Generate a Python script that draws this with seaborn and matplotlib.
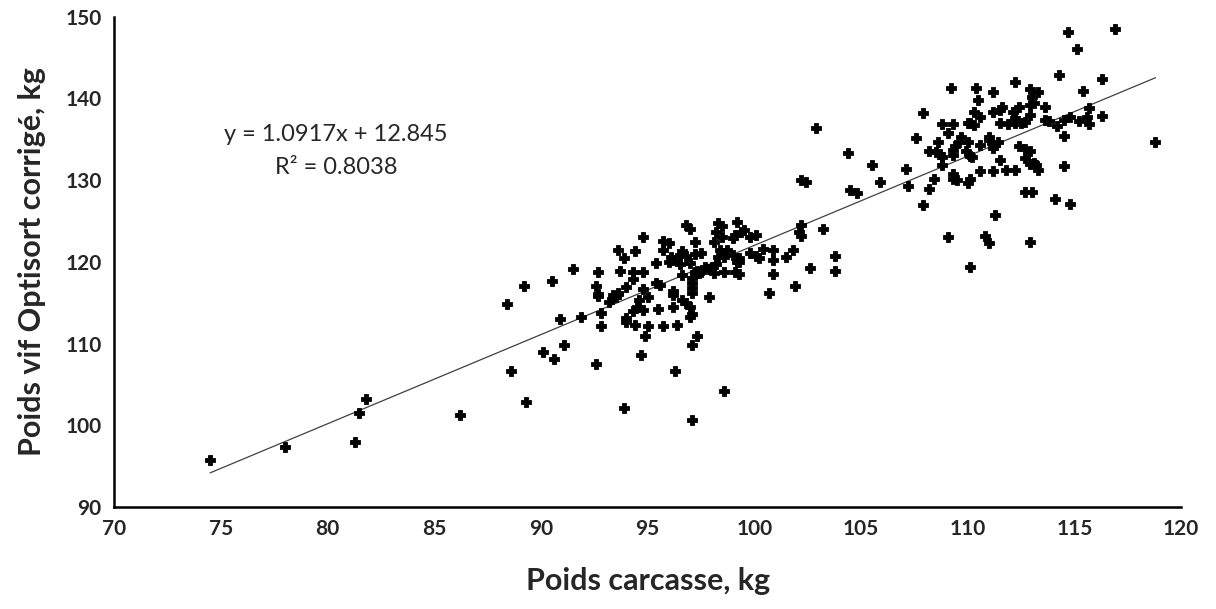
import matplotlib
matplotlib.use("Agg")
import matplotlib.pyplot as plt
import numpy as np
import pandas as pd
import seaborn as sns

# Carcass weight (kg) and corrected Optisort live weight (kg) per pig
poids_carcasse = [
    74.5, 78.0, 81.3, 81.5, 81.8, 86.2,
    91.1, 90.1, 90.6, 94.7, 92.6, 88.6, 89.3, 93.9,
    97.1, 96.3, 98.6, 97.1,
    94.8, 93.6, 94.4, 93.9, 91.5, 92.7, 93.7, 94.3, 94.8, 94.3,
    89.2, 90.5, 92.6, 94.0, 94.8, 92.7, 92.7, 93.4, 93.6, 93.6,
    93.5, 95.0, 94.6, 93.2, 88.4, 94.5, 94.3, 94.8, 92.8, 90.9,
    91.9, 94.0, 94.0, 94.4, 95.0, 92.8, 94.9,
    96.8, 97.0, 98.3, 98.5, 99.2, 95.7, 96.0, 95.7, 97.2, 98.2,
    98.1, 98.5, 99.0, 99.1, 99.4, 99.5, 99.8, 100.1, 102.2, 102.1,
    102.2, 96.6, 96.5, 96.8, 96.1, 96.2, 96.0, 97.2, 97.5, 98.4,
    98.5, 98.7, 98.3, 98.6, 99.0, 99.3, 99.2, 99.3, 99.8, 100.1,
    100.2, 100.4, 100.9, 100.9, 101.5, 101.8, 95.4, 96.5, 97.0, 98.2,
    97.7, 97.9, 98.0, 97.3, 97.5, 97.2, 97.4, 98.1, 98.6, 99.1,
    99.3, 100.9, 96.6, 97.1, 97.1, 97.1, 97.1, 95.4, 95.6, 100.7,
    101.9, 102.6, 96.2, 96.2, 97.9, 96.6, 96.8, 97.0, 96.2, 95.5,
    97.1, 97.0, 95.7, 96.4, 97.3,
    102.2, 102.4, 102.9, 104.4, 104.5, 104.8, 105.5, 105.9, 103.2,
    103.8, 103.8,
    112.2, 109.2, 110.4, 111.2, 112.9, 113.3, 110.5, 113.0, 113.1, 112.9,
    111.6, 112.4, 111.5, 111.2, 110.3, 112.1, 112.9, 107.9, 110.6, 112.2,
    112.3, 108.8, 109.3, 110.0, 110.1, 110.3, 111.5, 111.9, 112.2, 112.5,
    112.7, 109.1, 107.6, 109.7, 109.6, 110.0, 108.6, 111.0, 111.0, 111.4,
    111.3, 111.2, 110.6, 109.3, 109.4, 108.2, 108.5, 108.7, 108.8, 109.9,
    110.1, 110.2, 109.3, 112.4, 112.7, 112.9, 112.7, 111.5, 112.9, 108.8,
    107.1, 110.6, 111.2, 111.8, 112.2, 113.2, 109.3, 108.4, 109.3, 110.1,
    109.5, 107.2, 110.0, 108.2, 112.7, 113.0, 107.9, 111.3, 109.1, 110.8,
    111.0, 112.9, 110.1,
    114.3, 116.3, 115.4, 113.6, 115.7, 113.6, 113.8, 114.5, 114.8, 115.2,
    115.6, 115.7, 116.3, 114.2, 114.5, 118.8, 113.1, 113.3, 114.5, 114.1,
    114.8, 114.7, 115.1, 116.9,
]
poids_vif = [
    95.7, 97.4, 98.0, 101.5, 103.2, 101.2,
    109.8, 109.0, 108.1, 108.6, 107.5, 106.7, 102.8, 102.1,
    109.8, 106.6, 104.2, 100.7,
    123.1, 121.5, 121.3, 120.5, 119.1, 118.7, 118.9, 118.7, 118.8, 117.9,
    117.1, 117.6, 117.0, 116.9, 116.7, 116.1, 115.8, 116.0, 116.2, 116.1,
    115.7, 115.7, 115.3, 115.1, 114.9, 114.5, 114.0, 114.1, 113.7, 113.0,
    113.3, 113.1, 112.6, 112.3, 112.2, 112.2, 110.9,
    124.5, 124.0, 124.8, 124.4, 124.9, 122.5, 122.3, 121.5, 122.4, 123.6,
    122.4, 123.1, 122.9, 123.3, 123.6, 123.9, 123.1, 123.3, 124.5, 123.7,
    123.2, 121.3, 120.9, 120.7, 120.6, 120.2, 120.0, 121.0, 121.1, 121.4,
    121.1, 121.4, 120.6, 120.6, 120.9, 120.5, 120.0, 120.0, 121.1, 120.7,
    120.5, 121.6, 121.4, 120.2, 120.6, 121.5, 119.9, 119.8, 119.9, 119.8,
    119.4, 119.1, 119.4, 118.9, 118.8, 118.7, 118.6, 118.6, 118.7, 118.8,
    118.5, 118.5, 118.4, 118.0, 117.4, 116.8, 116.2, 117.4, 117.2, 116.2,
    117.1, 119.3, 116.4, 116.0, 115.7, 115.3, 115.0, 114.5, 114.5, 114.2,
    113.6, 113.3, 112.1, 112.3, 110.9,
    130.0, 129.8, 136.4, 133.3, 128.8, 128.4, 131.8, 129.8, 124.0,
    120.7, 118.9,
    142.0, 141.3, 141.3, 140.8, 141.1, 140.8, 139.8, 140.2, 139.5, 139.2,
    139.0, 138.9, 138.6, 138.3, 138.4, 138.4, 138.0, 138.2, 137.7, 137.6,
    137.3, 136.9, 136.9, 137.0, 137.0, 136.8, 137.0, 136.9, 137.0, 137.0,
    137.1, 135.8, 135.1, 135.3, 134.7, 134.7, 134.7, 135.3, 134.9, 134.7,
    134.3, 133.9, 134.3, 133.7, 134.2, 133.6, 133.4, 133.2, 132.8, 133.6,
    133.0, 132.8, 133.1, 134.2, 133.8, 133.6, 132.7, 132.5, 132.0, 131.8,
    131.4, 131.1, 131.1, 131.2, 131.3, 131.8, 130.7, 130.2, 130.2, 130.1,
    130.0, 129.3, 129.6, 128.9, 128.5, 128.5, 126.9, 125.7, 123.0, 123.2,
    122.3, 122.4, 119.4,
    142.9, 142.4, 140.9, 138.9, 138.8, 137.4, 137.3, 137.4, 137.7, 137.2,
    137.7, 136.9, 137.9, 136.6, 135.4, 134.7, 132.1, 131.3, 131.7, 127.7,
    127.1, 148.1, 146.0, 148.5,
]

# Linear trend reported for the series
pente = 1.0917
ordonnee = 12.845
r_carre = 0.8038

x_ticks = [70, 75, 80, 85, 90, 95, 100, 105, 110, 115, 120]
y_ticks = [90, 100, 110, 120, 130, 140, 150]

df = pd.DataFrame({"carcasse": poids_carcasse, "vif": poids_vif})

sns.set_style("white")
plt.rcParams["font.family"] = ["Lato", "DejaVu Sans"]

fig = plt.figure(figsize=(12.16, 6.09), dpi=100)
ax = fig.add_axes([0.0938, 0.1675, 0.8775, 0.805])

sns.scatterplot(data=df, x="carcasse", y="vif", ax=ax, marker="P",
                color="black", s=44, linewidth=0.6, edgecolor="black",
                zorder=3)

xs = np.array([df["carcasse"].min(), df["carcasse"].max()])
sns.lineplot(x=xs, y=pente * xs + ordonnee, ax=ax, color="#404040",
             linewidth=0.9, zorder=2)

ax.set_xlim(70, 120)
ax.set_ylim(90, 150)
ax.set_xticks(x_ticks)
ax.set_yticks(y_ticks)
ax.tick_params(axis="both", direction="out", length=6, width=1.6,
               color="black", labelsize=15, pad=3)
for lab in ax.get_xticklabels() + ax.get_yticklabels():
    lab.set_fontweight("bold")
for side in ("top", "right"):
    ax.spines[side].set_visible(False)
for side in ("left", "bottom"):
    ax.spines[side].set_color("black")
    ax.spines[side].set_linewidth(1.8)

ax.set_xlabel("Poids carcasse, kg", fontsize=22, fontweight="bold", labelpad=20)
ax.set_ylabel("Poids vif Optisort corrigé, kg", fontsize=22, fontweight="bold",
              labelpad=14)

ax.text(80.4, 135.6, f"y = {pente:.4f}x + {ordonnee:.3f}", ha="center",
        va="center", fontsize=17, color="#262626")
ax.text(80.4, 131.6, f"R² = {r_carre:.4f}", ha="center", va="center",
        fontsize=17, color="#262626")

fig.savefig("out.png", dpi=100)
